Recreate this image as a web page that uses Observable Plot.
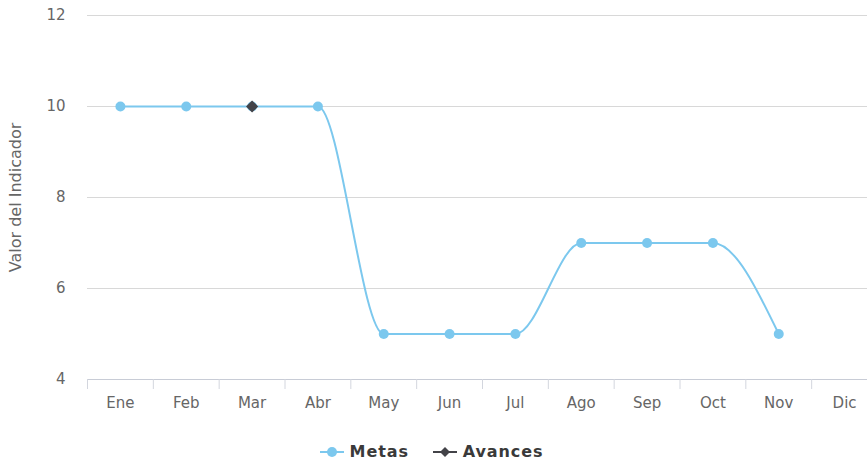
<!DOCTYPE html>
<html>
<head>
<meta charset="utf-8">
<script src="https://cdn.jsdelivr.net/npm/d3@7"></script>
<script src="https://cdn.jsdelivr.net/npm/@observablehq/plot@0.6"></script>
<style>
  body { margin: 0; background: #fff; font-family: "DejaVu Sans", sans-serif; overflow: hidden; }
  #chart { width: 867px; height: 428px; overflow: hidden; }
  #chart svg { display: block; }
  .legend { display: flex; justify-content: center; align-items: center; gap: 24px; height: 18px; line-height: 18px; margin-top: 15px; margin-left: -4px;
            font-family: "DejaVu Sans", sans-serif; font-size: 16px; font-weight: bold; letter-spacing: 0.9px; color: #3a3a3a; }
  .item { display: flex; align-items: center; gap: 6px; }
</style>
</head>
<body>
<div id="chart"></div>
<script>
const months = ["Ene", "Feb", "Mar", "Abr", "May", "Jun", "Jul", "Ago", "Sep", "Oct", "Nov", "Dic"];
const metas = [10, 10, 10, 10, 5, 5, 5, 7, 7, 7, 5, null];
const avances = [null, null, 10, null, null, null, null, null, null, null, null, null];
const yTicks = [4, 6, 8, 10, 12];
const colorMetas = "#7cc8ee";
const colorAvances = "#434348";

const metasData = metas.map((v, i) => ({i, v})).filter(d => d.v != null);
const avancesData = avances.map((v, i) => ({i, v})).filter(d => d.v != null);
const idx = months.map((m, i) => i);
const edges = d3.range(-0.5, months.length, 1);

const chart = Plot.plot({
  width: 867,
  height: 428,
  marginTop: 15,
  marginBottom: 49,
  marginLeft: 87,
  marginRight: -10,
  style: {fontFamily: "DejaVu Sans, sans-serif", fontSize: "15px", color: "#666", background: "transparent"},
  x: {type: "linear", domain: [-0.5, months.length - 0.5]},
  y: {domain: [4, 12]},
  marks: [
    Plot.gridY(yTicks, {stroke: "#d8d8d8", strokeOpacity: 1}),
    Plot.ruleY([4], {stroke: "#c8ccd6"}),
    Plot.axisY(yTicks, {tickSize: 0, tickPadding: 22, label: "Valor del Indicador", labelAnchor: "center", labelArrow: "none", labelOffset: 78, fill: "#666", fontSize: 15}),
    Plot.axisX(edges, {tickSize: 10, tickFormat: () => "", label: null, stroke: "#d3d6de"}),
    Plot.axisX(idx, {tickSize: 0, tickPadding: 18, tickFormat: i => months[i], label: null, fill: "#666", fontSize: 15}),
    Plot.line(metasData, {x: "i", y: "v", stroke: colorMetas, strokeWidth: 2, curve: "monotone-x"}),
    Plot.dot(metasData, {x: "i", y: "v", r: 5, fill: colorMetas, stroke: "none"}),
    Plot.dot(avancesData, {x: "i", y: "v", symbol: "diamond2", r: 5.5, fill: colorAvances, stroke: "none"})
  ]
});
chart.querySelectorAll('g[aria-label="y-axis label"] text').forEach(t => t.setAttribute("font-size", 16));
document.getElementById("chart").appendChild(chart);

const legend = document.createElement("div");
legend.className = "legend";
legend.innerHTML = `
  <div class="item"><svg width="24" height="12"><line x1="0" y1="6" x2="24" y2="6" stroke="${colorMetas}" stroke-width="2"/><circle cx="12" cy="6" r="5" fill="${colorMetas}"/></svg><span>Metas</span></div>
  <div class="item"><svg width="24" height="12"><line x1="0" y1="6" x2="24" y2="6" stroke="${colorAvances}" stroke-width="2"/><path d="M12,1 L17,6 L12,11 L7,6 Z" fill="${colorAvances}"/></svg><span>Avances</span></div>`;
document.body.appendChild(legend);
</script>
</body>
</html>
